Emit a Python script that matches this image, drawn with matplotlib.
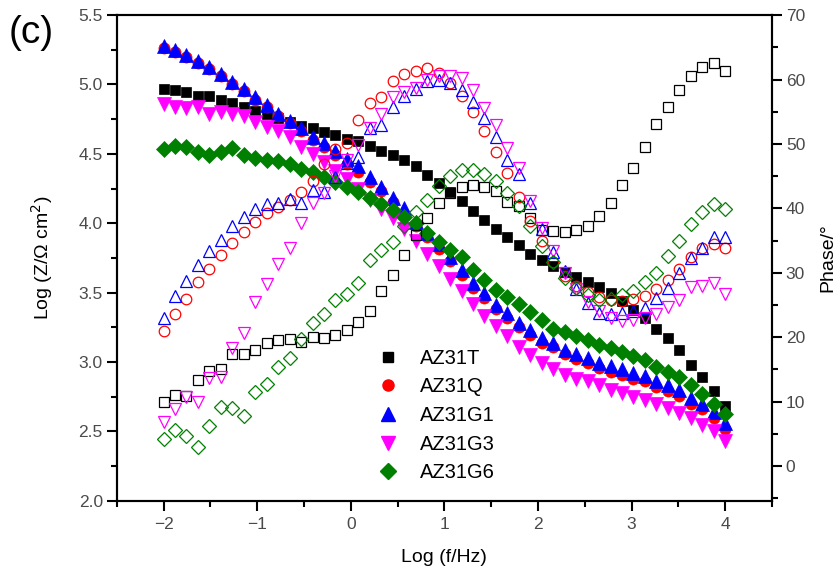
import matplotlib
matplotlib.use("Agg")
import matplotlib.pyplot as plt
import numpy as np
from matplotlib.ticker import MultipleLocator
from matplotlib.lines import Line2D

plt.rcParams["font.family"] = ["Liberation Sans", "DejaVu Sans"]

# log frequency grid: 50 points, 10 mHz .. 10 kHz
log_f = np.linspace(-2, 4, 50)

labels = ["AZ31T", "AZ31Q", "AZ31G1", "AZ31G3", "AZ31G6"]
colors = ["#000000", "#ff0000", "#0000ff", "#ff00ff", "#008000"]
markers = ["s", "o", "^", "v", "D"]

# Log |Z| (filled symbols, left axis)
z_T = [4.97, 4.96, 4.945, 4.92, 4.915, 4.89, 4.865, 4.84, 4.81, 4.785,
       4.76, 4.73, 4.70, 4.685, 4.66, 4.635, 4.61, 4.59, 4.556, 4.52,
       4.49, 4.455, 4.41, 4.35, 4.29, 4.225, 4.16, 4.09, 4.02, 3.96,
       3.90, 3.84, 3.78, 3.735, 3.69, 3.65, 3.615, 3.575, 3.54, 3.50,
       3.44, 3.375, 3.315, 3.24, 3.17, 3.09, 2.98, 2.89, 2.79, 2.685]
z_Q = [5.265, 5.235, 5.195, 5.155, 5.11, 5.06, 5.005, 4.95, 4.89, 4.835,
       4.775, 4.72, 4.665, 4.60, 4.55, 4.49, 4.43, 4.37, 4.30, 4.23,
       4.15, 4.07, 3.98, 3.90, 3.815, 3.725, 3.63, 3.535, 3.46, 3.38,
       3.315, 3.25, 3.195, 3.14, 3.105, 3.06, 3.02, 2.99, 2.955, 2.93,
       2.91, 2.88, 2.86, 2.82, 2.79, 2.755, 2.70, 2.66, 2.595, 2.52]
z_G1 = [5.28, 5.25, 5.21, 5.17, 5.128, 5.075, 5.02, 4.965, 4.907, 4.85,
        4.787, 4.736, 4.69, 4.62, 4.575, 4.52, 4.465, 4.41, 4.33, 4.26,
        4.18, 4.107, 4.01, 3.93, 3.85, 3.76, 3.66, 3.567, 3.495, 3.41,
        3.35, 3.283, 3.23, 3.175, 3.14, 3.09, 3.055, 3.027, 2.99, 2.97,
        2.95, 2.92, 2.90, 2.86, 2.834, 2.80, 2.74, 2.70, 2.64, 2.56]
z_G3 = [4.86, 4.835, 4.83, 4.835, 4.79, 4.80, 4.785, 4.77, 4.73, 4.695,
        4.665, 4.62, 4.55, 4.50, 4.44, 4.38, 4.32, 4.25, 4.17, 4.10,
        4.04, 3.96, 3.87, 3.78, 3.69, 3.60, 3.51, 3.42, 3.335, 3.26,
        3.19, 3.11, 3.05, 2.99, 2.947, 2.906, 2.88, 2.86, 2.834, 2.80,
        2.775, 2.75, 2.726, 2.70, 2.666, 2.63, 2.594, 2.545, 2.50, 2.43]
z_G6 = [4.532, 4.56, 4.547, 4.51, 4.49, 4.51, 4.54, 4.49, 4.467, 4.455,
        4.45, 4.43, 4.39, 4.37, 4.335, 4.30, 4.26, 4.227, 4.18, 4.14,
        4.095, 4.047, 4.0, 3.93, 3.867, 3.81, 3.755, 3.663, 3.59, 3.52,
        3.47, 3.42, 3.363, 3.30, 3.24, 3.218, 3.187, 3.16, 3.12, 3.10,
        3.07, 3.04, 3.014, 2.966, 2.93, 2.89, 2.834, 2.767, 2.70, 2.625]

# phase angle in degrees (open symbols, right axis)
ph_T = [9.9, 11.0, 10.9, 13.4, 14.8, 15.1, 17.4, 17.4, 18.0, 19.1,
        19.5, 19.7, 19.3, 20.0, 19.85, 20.35, 21.1, 22.3, 24.1, 27.1,
        29.7, 32.8, 35.9, 38.5, 40.9, 42.4, 43.3, 43.6, 43.3, 42.7,
        41.05, 40.3, 38.5, 36.7, 36.5, 36.3, 36.7, 37.3, 38.8, 40.9,
        43.65, 46.2, 49.6, 53.1, 55.8, 58.4, 60.6, 61.9, 62.6, 61.4]
ph_Q = [21.0, 23.6, 25.9, 28.5, 30.6, 32.8, 34.7, 36.4, 37.95, 39.35,
        40.2, 41.3, 42.6, 44.3, 46.9, 49.2, 50.2, 53.7, 56.3, 57.3,
        59.8, 60.8, 61.35, 61.8, 61.0, 59.5, 57.4, 55.0, 52.0, 48.7,
        45.5, 41.7, 38.1, 35.0, 31.7, 29.5, 28.0, 27.0, 26.2, 25.7,
        25.6, 26.0, 26.4, 27.45, 28.9, 30.6, 32.4, 33.8, 34.4, 33.8]
ph_G1 = [23.0, 26.4, 28.75, 31.2, 33.4, 35.1, 37.2, 38.7, 39.9, 40.7,
         40.9, 41.4, 40.9, 42.9, 42.6, 44.8, 47.0, 48.0, 52.4, 53.0,
         55.8, 57.4, 58.5, 59.7, 60.0, 59.4, 58.4, 56.5, 54.0, 51.15,
         47.5, 45.3, 40.8, 36.8, 33.3, 30.3, 27.5, 25.3, 23.8, 23.6,
         23.7, 24.1, 24.5, 26.05, 27.6, 29.9, 32.3, 33.8, 35.5, 35.6]
ph_G3 = [6.9, 8.8, 10.7, 10.0, 13.6, 13.8, 18.4, 20.6, 25.4, 28.2,
         31.4, 33.8, 37.8, 40.8, 42.4, 45.0, 47.5, 49.9, 52.5, 54.7,
         57.3, 58.0, 58.7, 60.0, 60.5, 60.5, 60.2, 58.4, 55.6, 53.0,
         49.3, 46.3, 41.2, 37.0, 33.4, 30.0, 27.5, 25.5, 24.0, 23.0,
         22.5, 22.7, 23.0, 23.6, 24.65, 25.8, 27.8, 28.0, 28.4, 26.7]
ph_G6 = [4.2, 5.6, 4.7, 3.0, 6.2, 9.2, 8.95, 7.7, 11.55, 12.75,
         15.4, 16.7, 19.7, 22.2, 23.6, 25.8, 26.7, 28.4, 32.0, 33.5,
         34.8, 37.3, 39.5, 41.3, 43.4, 45.0, 45.9, 46.0, 45.4, 44.2,
         42.4, 40.3, 37.2, 34.1, 31.7, 29.2, 27.6, 26.5, 25.8, 25.9,
         26.6, 27.1, 28.5, 30.0, 32.6, 35.0, 37.6, 39.4, 40.6, 39.9]

z_all = [z_T, z_Q, z_G1, z_G3, z_G6]
ph_all = [ph_T, ph_Q, ph_G1, ph_G3, ph_G6]
sizes = [7.5, 8, 9.5, 9.5, 8]

fig = plt.figure(figsize=(8.4, 5.81), dpi=100)
ax = fig.add_axes([0.139, 0.138, 0.780, 0.836])
ax2 = ax.twinx()

for z, c, m, s in zip(z_all, colors, markers, sizes):
    ax.plot(log_f, z, ls="none", marker=m, ms=s, color=c, mec=c, mew=0.5)
for ph, c, m, s in zip(ph_all, colors, markers, sizes):
    ax2.plot(log_f, ph, ls="none", marker=m, ms=s * 0.95, mfc="none", mec=c, mew=0.9)

ax.set_xlim(-2.5, 4.5)
ax.set_ylim(2.0, 5.5)
ax2.set_ylim(-5.4, 70)

ax.xaxis.set_major_locator(MultipleLocator(1))
ax.xaxis.set_minor_locator(MultipleLocator(0.5))
ax.yaxis.set_major_locator(MultipleLocator(0.5))
ax.yaxis.set_minor_locator(MultipleLocator(0.25))
ax2.yaxis.set_major_locator(MultipleLocator(10))
ax2.yaxis.set_minor_locator(MultipleLocator(5))

tick_gray = "#4a4a4a"
for a in (ax, ax2):
    for sp in a.spines.values():
        sp.set_linewidth(1.5)
    a.tick_params(which="major", direction="out", length=7, width=1.5,
                  labelsize=12.5, labelcolor=tick_gray)
    a.tick_params(which="minor", direction="out", length=4, width=1.5)
ax.tick_params(axis="x", top=False, pad=5)
ax.tick_params(axis="y", right=False, pad=3)
ax2.tick_params(axis="y", pad=3)

ax.set_xlabel("Log (f/Hz)", fontsize=14, labelpad=12)
ax.set_ylabel("Log (Z/\u03a9 cm$^2$)", fontsize=14, labelpad=17)
ax2.set_ylabel("Phase/\u00b0", fontsize=14, labelpad=10)

fig.text(0.010, 0.975, "(c)", fontsize=28, va="top", ha="left")

handles = [Line2D([], [], ls="none", marker=m, ms=s, color=c, mec=c)
           for c, m, s in zip(colors, markers, sizes)]
ax.legend(handles, labels, loc="upper left", bbox_to_anchor=(0.383, 0.33),
          frameon=False, fontsize=14.5, handletextpad=1.0, labelspacing=0.48,
          handlelength=1.2, borderaxespad=0)

fig.savefig("out.png", dpi=100)
